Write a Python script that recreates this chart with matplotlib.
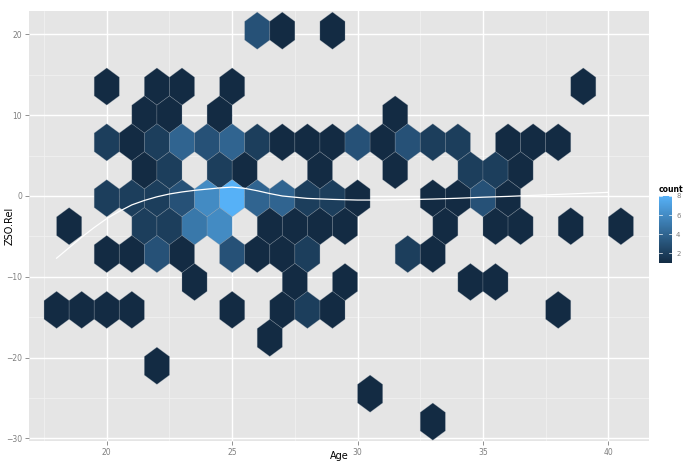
import numpy as np
import matplotlib
matplotlib.use("Agg")
import matplotlib.pyplot as plt
from matplotlib.collections import PolyCollection
from matplotlib.colors import LinearSegmentedColormap, Normalize
from matplotlib.cm import ScalarMappable

# hexbin cells: centre age, centre ZSO.Rel, count
hex_x = [26, 27, 29,
         20, 22, 23, 25, 39,
         21.5, 22.5, 24.5, 31.5,
         20, 21, 22, 23, 24, 25, 26, 27, 28, 29, 30, 31, 32, 33, 34, 36, 37, 38,
         21.5, 22.5, 24.5, 25.5, 28.5, 31.5, 34.5, 35.5, 36.5,
         20, 21, 22, 23, 24, 25, 26, 27, 28, 29, 30, 33, 34, 35, 36,
         18.5, 21.5, 22.5, 23.5, 24.5, 26.5, 27.5, 28.5, 29.5, 33.5, 35.5, 36.5, 38.5, 40.5,
         20, 21, 22, 23, 25, 26, 27, 28, 32, 33,
         23.5, 27.5, 29.5, 34.5, 35.5,
         18, 19, 20, 21, 25, 27, 28, 29, 38,
         26.5,
         22,
         30.5,
         33]
hex_y = ([20.46] * 3 + [13.55] * 5 + [10.09] * 4 + [6.64] * 18 + [3.18] * 9
         + [-0.28] * 15 + [-3.74] * 14 + [-7.19] * 10 + [-10.65] * 5
         + [-14.10] * 9 + [-17.56] + [-21.02] + [-24.47] + [-27.93])
hex_count = [3, 1, 1,
             1, 1, 1, 1, 1,
             1, 1, 1, 1,
             2, 1, 2, 4, 3, 4, 2, 1, 1, 1, 3, 1, 3, 2, 2, 1, 1, 1,
             1, 2, 2, 1, 1, 1, 2, 2, 1,
             2, 2, 2, 3, 6, 8, 4, 4, 2, 2, 1, 1, 1, 3, 1,
             1, 2, 2, 5, 6, 1, 1, 1, 1, 1, 1, 1, 1, 1,
             1, 1, 3, 1, 3, 1, 1, 2, 2, 1,
             1, 1, 1, 1, 1,
             1, 1, 1, 1, 1, 1, 2, 1, 1,
             1,
             1,
             1,
             1]

# loess smooth
smooth_x = [18, 18.5, 19, 19.5, 20, 20.5, 21, 21.5, 22, 22.5, 23, 23.5, 24, 24.5,
            25, 25.5, 26, 26.5, 27, 27.5, 28, 29, 30, 31, 32, 33, 34, 35, 36, 37, 38, 39, 40]
smooth_y = [-7.7, -6.4, -5.1, -3.9, -2.8, -1.9, -1.1, -0.55, -0.1, 0.25, 0.5, 0.7, 0.85, 1.0,
            1.1, 0.95, 0.65, 0.3, 0.0, -0.15, -0.3, -0.42, -0.5, -0.5, -0.45, -0.38, -0.28,
            -0.15, -0.05, 0.08, 0.2, 0.32, 0.45]

x_ticks = [20, 25, 30, 35, 40]
y_ticks = [-30, -20, -10, 0, 10, 20]
legend_ticks = [2, 4, 6, 8]

HALF_W = 0.5
R = 2.3
GREY = "#7F7F7F"


def hexagon(cx, cy):
    return [(cx, cy + R), (cx + HALF_W, cy + R / 2), (cx + HALF_W, cy - R / 2),
            (cx, cy - R), (cx - HALF_W, cy - R / 2), (cx - HALF_W, cy + R / 2)]


cmap = LinearSegmentedColormap.from_list("gg", ["#132B43", "#56B1F7"])
norm = Normalize(vmin=1, vmax=8)

fig = plt.figure(figsize=(7, 4.66), dpi=100)
ax = fig.add_axes([29 / 700, 1 - 441 / 466, 620 / 700, 430 / 466])
ax.set_facecolor("#E5E5E5")

xlim = (16.90, 41.62)
ylim = (-30.33, 22.9)
for v in np.arange(17.5, 41.6, 5):
    ax.axvline(v, color="#F2F2F2", lw=0.5, zorder=0)
for v in np.arange(-25, 22.9, 10):
    ax.axhline(v, color="#F2F2F2", lw=0.5, zorder=0)
for v in x_ticks:
    ax.axvline(v, color="white", lw=1.0, zorder=0)
for v in y_ticks:
    ax.axhline(v, color="white", lw=1.0, zorder=0)

polys = [hexagon(x, y) for x, y in zip(hex_x, hex_y)]
coll = PolyCollection(polys, array=np.array(hex_count, dtype=float), cmap=cmap, norm=norm,
                      edgecolors=(0.55, 0.6, 0.65, 0.35), linewidths=0.5, zorder=2)
ax.add_collection(coll)

ax.plot(smooth_x, smooth_y, color="white", lw=0.9, zorder=3)

ax.set_xlim(*xlim)
ax.set_ylim(*ylim)
ax.set_xticks(x_ticks)
ax.set_yticks(y_ticks)
ax.tick_params(axis="both", colors=GREY, labelsize=5.5, length=3, width=0.6, pad=2)
for s in ax.spines.values():
    s.set_visible(False)

# axis titles placed directly so they stay inside the canvas
fig.text(339 / 700, 1 - 456 / 466, "Age", fontsize=7, ha="center", va="center")
fig.text(10 / 700, 1 - 226 / 466, "ZSO.Rel", fontsize=7, ha="center", va="center",
         rotation=90)

# colour bar legend
cax = fig.add_axes([659 / 700, 1 - 263 / 466, 13 / 700, 67 / 466])
cb = fig.colorbar(ScalarMappable(norm=norm, cmap=cmap), cax=cax)
cb.outline.set_visible(False)
cb.set_ticks(legend_ticks)
cax.tick_params(colors=GREY, labelsize=5, length=0, pad=3)
for t in legend_ticks:
    cax.plot([0, 0.2], [t, t], color="white", lw=0.5, transform=cax.get_yaxis_transform())
    cax.plot([0.8, 1.0], [t, t], color="white", lw=0.5, transform=cax.get_yaxis_transform())
fig.text(659 / 700, 1 - 190 / 466, "count", fontsize=5.5, fontweight="bold", va="center")

fig.savefig("out.png", dpi=100)
